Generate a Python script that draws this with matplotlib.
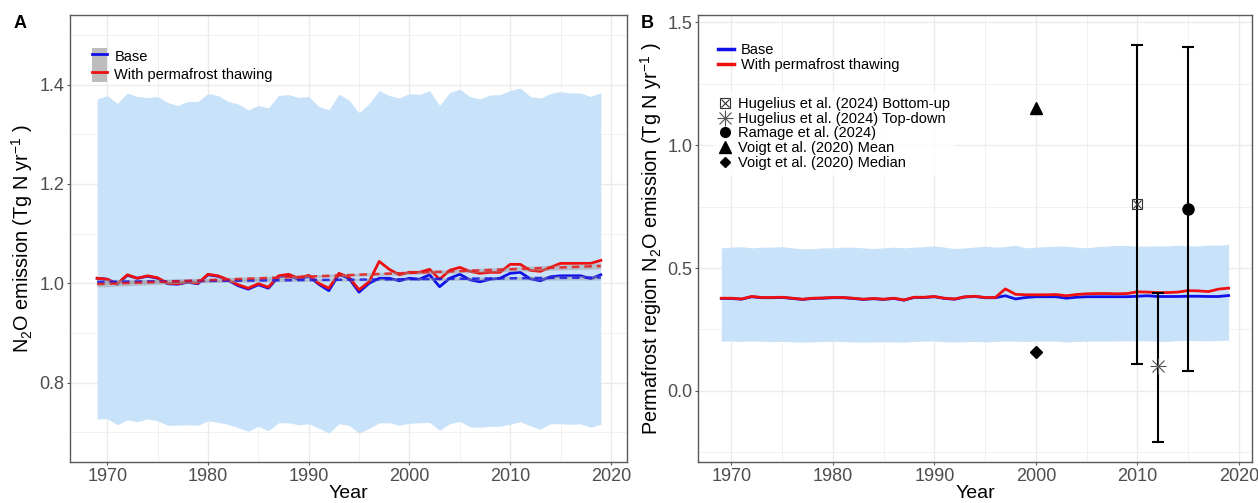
import numpy as np
import matplotlib
matplotlib.use("Agg")
import matplotlib.pyplot as plt
from matplotlib.lines import Line2D
from matplotlib.patches import Patch
from matplotlib.legend_handler import HandlerTuple
from matplotlib.ticker import MultipleLocator, FormatStrFormatter

plt.rcParams["font.family"] = ["Liberation Sans", "DejaVu Sans"]
plt.rcParams["mathtext.default"] = "regular"

years = np.arange(1969, 2020)

# panel A: global N2O emission (Tg N / yr)
a_thaw = [1.010, 1.008, 0.999, 1.017, 1.010, 1.015, 1.011, 1.000, 0.999, 1.003,
          1.000, 1.018, 1.015, 1.007, 0.997, 0.990, 0.999, 0.992, 1.015, 1.018,
          1.010, 1.016, 1.000, 0.990, 1.020, 1.012, 0.987, 1.003, 1.044, 1.028,
          1.017, 1.022, 1.022, 1.028, 1.008, 1.026, 1.032, 1.024, 1.020, 1.022,
          1.022, 1.038, 1.038, 1.026, 1.024, 1.032, 1.040, 1.040, 1.040, 1.040,
          1.046]
a_base = [1.010, 1.008, 0.998, 1.016, 1.010, 1.014, 1.010, 0.999, 0.998, 1.002,
          0.999, 1.017, 1.014, 1.006, 0.995, 0.988, 0.997, 0.990, 1.013, 1.016,
          1.008, 1.014, 0.998, 0.985, 1.018, 1.010, 0.982, 1.000, 1.010, 1.010,
          1.005, 1.010, 1.008, 1.017, 0.993, 1.010, 1.018, 1.007, 1.003, 1.008,
          1.010, 1.020, 1.022, 1.009, 1.005, 1.013, 1.015, 1.015, 1.015, 1.009,
          1.017]
a_upper = [1.371, 1.378, 1.362, 1.383, 1.376, 1.374, 1.376, 1.364, 1.358, 1.366,
           1.366, 1.382, 1.378, 1.366, 1.361, 1.349, 1.358, 1.353, 1.378, 1.380,
           1.374, 1.376, 1.356, 1.349, 1.381, 1.369, 1.343, 1.362, 1.388, 1.378,
           1.373, 1.382, 1.380, 1.388, 1.358, 1.384, 1.391, 1.376, 1.371, 1.379,
           1.380, 1.388, 1.393, 1.376, 1.373, 1.382, 1.386, 1.383, 1.383, 1.376,
           1.384]
a_lower = [0.727, 0.727, 0.715, 0.725, 0.721, 0.727, 0.723, 0.714, 0.714, 0.715,
           0.714, 0.723, 0.720, 0.716, 0.709, 0.702, 0.712, 0.703, 0.719, 0.719,
           0.715, 0.717, 0.708, 0.698, 0.717, 0.714, 0.698, 0.708, 0.719, 0.719,
           0.714, 0.718, 0.719, 0.720, 0.704, 0.717, 0.722, 0.711, 0.710, 0.712,
           0.712, 0.716, 0.721, 0.713, 0.706, 0.717, 0.717, 0.716, 0.717, 0.710,
           0.716]

# panel B: permafrost region N2O emission (Tg N / yr)
b_thaw = [0.377, 0.377, 0.374, 0.384, 0.380, 0.380, 0.381, 0.377, 0.373, 0.377,
          0.378, 0.380, 0.380, 0.377, 0.373, 0.376, 0.373, 0.377, 0.370, 0.381,
          0.381, 0.384, 0.377, 0.374, 0.383, 0.385, 0.380, 0.380, 0.415, 0.393,
          0.391, 0.391, 0.391, 0.392, 0.387, 0.392, 0.395, 0.396, 0.396, 0.395,
          0.396, 0.403, 0.402, 0.400, 0.400, 0.402, 0.408, 0.407, 0.404, 0.414,
          0.418]
b_base = [0.376, 0.376, 0.373, 0.383, 0.379, 0.379, 0.380, 0.376, 0.372, 0.376,
          0.377, 0.379, 0.379, 0.376, 0.372, 0.375, 0.372, 0.376, 0.369, 0.380,
          0.380, 0.383, 0.376, 0.373, 0.382, 0.384, 0.379, 0.379, 0.387, 0.374,
          0.380, 0.383, 0.383, 0.383, 0.377, 0.381, 0.383, 0.383, 0.383, 0.383,
          0.383, 0.385, 0.387, 0.384, 0.384, 0.384, 0.385, 0.385, 0.384, 0.384,
          0.388]
b_upper = [0.582, 0.585, 0.587, 0.582, 0.585, 0.585, 0.587, 0.582, 0.578, 0.579,
           0.582, 0.582, 0.585, 0.585, 0.582, 0.579, 0.582, 0.585, 0.582, 0.585,
           0.587, 0.590, 0.585, 0.579, 0.582, 0.585, 0.589, 0.585, 0.587, 0.593,
           0.582, 0.585, 0.587, 0.589, 0.589, 0.585, 0.582, 0.587, 0.589, 0.592,
           0.592, 0.589, 0.589, 0.590, 0.590, 0.593, 0.590, 0.590, 0.593, 0.593,
           0.596]
b_lower = [0.202, 0.203, 0.201, 0.203, 0.202, 0.200, 0.201, 0.199, 0.198, 0.199,
           0.201, 0.202, 0.200, 0.199, 0.198, 0.199, 0.200, 0.199, 0.198, 0.201,
           0.202, 0.203, 0.200, 0.199, 0.200, 0.201, 0.199, 0.201, 0.203, 0.202,
           0.201, 0.202, 0.203, 0.202, 0.199, 0.201, 0.202, 0.203, 0.202, 0.203,
           0.203, 0.204, 0.203, 0.202, 0.201, 0.204, 0.205, 0.204, 0.203, 0.205,
           0.206]

# published estimates: (year, value, low, high)
hug_bu = (2010, 0.76, 0.11, 1.41)
hug_td = (2012, 0.10, -0.21, 0.40)
ramage = (2015, 0.74, 0.08, 1.40)
voigt_mean = (2000, 1.15)
voigt_median = (2000, 0.16)

BAND = "#c8e2fa"
BLUE = "#1010e8"
RED = "#ee1010"
GRID = "#ebebeb"
TXT = "#4d4d4d"


def style_axes(ax):
    ax.set_facecolor("white")
    for sp in ax.spines.values():
        sp.set_color("#5a5a5a")
        sp.set_linewidth(1.0)
    ax.grid(True, which="major", color=GRID, lw=1.0, zorder=0)
    ax.grid(True, which="minor", color=GRID, lw=0.5, zorder=0)
    ax.set_axisbelow(True)
    ax.tick_params(which="major", length=2.5, color="#5a5a5a", labelsize=13,
                   labelcolor=TXT, pad=1.5)
    ax.tick_params(which="minor", length=0)
    ax.xaxis.set_major_locator(MultipleLocator(10))
    ax.xaxis.set_minor_locator(MultipleLocator(5))
    ax.set_xlabel("Year", fontsize=14, labelpad=0)


def lm_fit(x, y):
    x = np.asarray(x, float)
    y = np.asarray(y, float)
    coef = np.polyfit(x, y, 1)
    fit = np.polyval(coef, x)
    n = len(x)
    s = np.sqrt(np.sum((y - fit) ** 2) / (n - 2))
    se = s * np.sqrt(1 / n + (x - x.mean()) ** 2 / np.sum((x - x.mean()) ** 2))
    return fit, 2.01 * se


fig = plt.figure(figsize=(12.58, 5.03), dpi=100)
ax1 = fig.add_axes([0.0556, 0.0815, 0.4428, 0.8885])
ax2 = fig.add_axes([0.5548, 0.0815, 0.4404, 0.8885])

# ---- panel A
style_axes(ax1)
ax1.fill_between(years, a_lower, a_upper, color=BAND, lw=0, zorder=1)
for ser, col in ((a_base, BLUE), (a_thaw, RED)):
    ax1.plot(years, ser, color=col, lw=2.0, zorder=3)
for ser, col in ((a_base, BLUE), (a_thaw, RED)):
    fit, ci = lm_fit(years, ser)
    ax1.fill_between(years, fit - ci, fit + ci, color="#999999", alpha=0.45,
                     lw=0, zorder=4)
    ax1.plot(years, fit, color=col, lw=1.8, ls=(0, (3, 2)), alpha=0.8, zorder=5)
ax1.set_xlim(1966.3, 2021.6)
ax1.set_ylim(0.64, 1.54)
ax1.yaxis.set_major_locator(MultipleLocator(0.2))
ax1.yaxis.set_minor_locator(MultipleLocator(0.1))
ax1.yaxis.set_major_formatter(FormatStrFormatter("%.1f"))
ax1.set_ylabel("N$_2$O emission (Tg N yr$^{-1}$ )", fontsize=14.3, labelpad=3)

gray_key = Patch(facecolor="#bdbdbd", edgecolor="none")
h_base = (gray_key, Line2D([], [], color=BLUE, lw=2))
h_thaw = (gray_key, Line2D([], [], color=RED, lw=2))
ax1.legend([h_base, h_thaw], ["Base", "With permafrost thawing"],
           handler_map={tuple: HandlerTuple(ndivide=1, pad=0)},
           loc="upper left", bbox_to_anchor=(0.03, 0.94), frameon=False,
           fontsize=10.5, handlelength=1.0, handleheight=1.45, labelspacing=0.0,
           handletextpad=0.5, borderaxespad=0)
fig.text(0.011, 0.945, "A", fontsize=13, fontweight="bold")

# ---- panel B
style_axes(ax2)
ax2.fill_between(years, b_lower, b_upper, color=BAND, lw=0, zorder=1)
ax2.plot(years, b_base, color=BLUE, lw=2.0, zorder=3)
ax2.plot(years, b_thaw, color=RED, lw=2.0, zorder=3)

for yr, val, lo, hi in (hug_bu, hug_td, ramage):
    ax2.errorbar(yr, val, yerr=[[val - lo], [hi - val]], fmt="none",
                 ecolor="black", elinewidth=1.5, capsize=4, capthick=1.5,
                 zorder=4)
mk_sq = dict(marker="s", ms=7.5, mfc="none", mec="#333333", mew=0.8, ls="none")
mk_x = dict(marker="x", ms=6, mec="#333333", mew=0.8, ls="none")
mk_p = dict(marker="+", ms=11, mec="#555555", mew=0.8, ls="none")
mk_xs = dict(marker="x", ms=8, mec="#555555", mew=0.8, ls="none")
ax2.plot(hug_bu[0], hug_bu[1], zorder=5, **mk_sq)
ax2.plot(hug_bu[0], hug_bu[1], zorder=5, **mk_x)
ax2.plot(hug_td[0], hug_td[1], zorder=5, **mk_p)
ax2.plot(hug_td[0], hug_td[1], zorder=5, **mk_xs)
ax2.plot(ramage[0], ramage[1], marker="o", ms=8, color="black", ls="none", zorder=5)
ax2.plot(voigt_mean[0], voigt_mean[1], marker="^", ms=9, color="black", ls="none", zorder=5)
ax2.plot(voigt_median[0], voigt_median[1], marker="D", ms=6, color="black", ls="none", zorder=5)

ax2.set_xlim(1966.7, 2021.3)
ax2.set_ylim(-0.29, 1.53)
ax2.yaxis.set_major_locator(MultipleLocator(0.5))
ax2.yaxis.set_minor_locator(MultipleLocator(0.25))
ax2.yaxis.set_major_formatter(FormatStrFormatter("%.1f"))
ax2.set_ylabel("Permafrost region N$_2$O emission (Tg N yr$^{-1}$ )",
               fontsize=14.3, labelpad=2)

leg1 = ax2.legend([Line2D([], [], color=BLUE, lw=2.5), Line2D([], [], color=RED, lw=2.5)],
                  ["Base", "With permafrost thawing"], loc="upper left",
                  bbox_to_anchor=(0.025, 0.95), frameon=False, fontsize=10.5,
                  handlelength=1.1, labelspacing=0.05, handletextpad=0.5,
                  borderaxespad=0)
ax2.add_artist(leg1)

mk_handles = [
    (Line2D([], [], **mk_sq), Line2D([], [], **mk_x)),
    (Line2D([], [], **mk_p), Line2D([], [], **mk_xs)),
    Line2D([], [], marker="o", ms=7, color="black", ls="none"),
    Line2D([], [], marker="^", ms=8, color="black", ls="none"),
    Line2D([], [], marker="D", ms=5, color="black", ls="none"),
]
mk_labels = ["Hugelius et al. (2024) Bottom-up", "Hugelius et al. (2024) Top-down",
             "Ramage et al. (2024)", "Voigt et al. (2020) Mean",
             "Voigt et al. (2020) Median"]
leg2 = ax2.legend(mk_handles, mk_labels,
                  handler_map={tuple: HandlerTuple(ndivide=1, pad=0)},
                  loc="upper left", bbox_to_anchor=(0.027, 0.83), frameon=True,
                  fontsize=10.5, handlelength=0.9, labelspacing=0.05,
                  handletextpad=0.45, borderaxespad=0, borderpad=0.4)
leg2.get_frame().set_facecolor("white")
leg2.get_frame().set_edgecolor("none")
leg2.get_frame().set_boxstyle("square", pad=0)
fig.text(0.509, 0.945, "B", fontsize=13, fontweight="bold")

fig.savefig("out.png", dpi=100)
